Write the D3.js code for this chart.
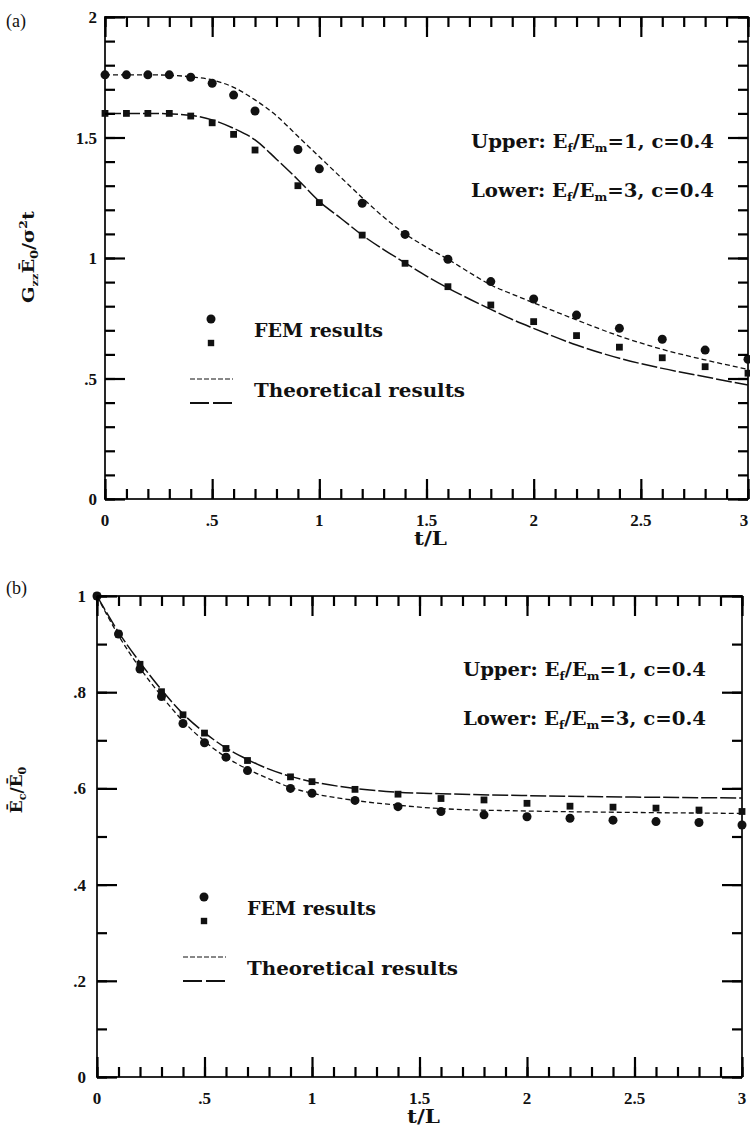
<!DOCTYPE html>
<html>
<head>
<meta charset="utf-8">
<script src="https://d3js.org/d3.v7.min.js"></script>
<style>
  body { margin: 0; background: #fff; }
  text { font-family: "DejaVu Serif", "Liberation Serif", serif; fill: #111; }
</style>
</head>
<body>
<div id="my_dataviz"></div>
<script>

// ---------- data ----------
// panel (a): G Ebar0 / sigma^2 t  vs  t/L
var femT = [0, 0.1, 0.2, 0.3, 0.4, 0.5, 0.6, 0.7, 0.9, 1.0, 1.2, 1.4, 1.6, 1.8, 2.0, 2.2, 2.4, 2.6, 2.8, 3.0];
var femA_upper = [1.76, 1.76, 1.76, 1.76, 1.75, 1.725, 1.676, 1.61, 1.45, 1.37, 1.227, 1.098, 0.995, 0.902, 0.83, 0.763, 0.708, 0.663, 0.618, 0.58];
var femA_lower = [1.60, 1.60, 1.60, 1.60, 1.589, 1.561, 1.513, 1.448, 1.30, 1.23, 1.095, 0.978, 0.881, 0.805, 0.736, 0.678, 0.63, 0.586, 0.549, 0.522];

var theoT = [0, 0.1, 0.2, 0.3, 0.4, 0.5, 0.6, 0.7, 0.8, 0.9, 1.0, 1.1, 1.2, 1.3, 1.4, 1.5, 1.6, 1.7, 1.8, 1.9, 2.0, 2.2, 2.4, 2.6, 2.8, 3.0];
var theoA_upper = [1.76, 1.76, 1.76, 1.758, 1.752, 1.739, 1.708, 1.656, 1.59, 1.505, 1.42, 1.335, 1.25, 1.17, 1.10, 1.045, 0.995, 0.94, 0.888, 0.85, 0.814, 0.743, 0.676, 0.621, 0.577, 0.538];
var theoA_lower = [1.60, 1.60, 1.60, 1.598, 1.592, 1.573, 1.538, 1.49, 1.41, 1.325, 1.235, 1.165, 1.095, 1.035, 0.98, 0.925, 0.875, 0.83, 0.787, 0.745, 0.708, 0.639, 0.584, 0.542, 0.507, 0.473];

// panel (b): Ebar_c / Ebar_0  vs  t/L
var femB_t = [0, 0.1, 0.2, 0.3, 0.4, 0.5, 0.6, 0.7, 0.9, 1.0, 1.2, 1.4, 1.6, 1.8, 2.0, 2.2, 2.4, 2.6, 2.8, 3.0];
var femB_circle = [1.0, 0.921, 0.848, 0.791, 0.735, 0.695, 0.665, 0.637, 0.60, 0.59, 0.575, 0.562, 0.552, 0.545, 0.541, 0.538, 0.534, 0.531, 0.529, 0.524];
var femB_square = [1.0, 0.921, 0.858, 0.801, 0.753, 0.715, 0.683, 0.658, 0.624, 0.614, 0.598, 0.588, 0.579, 0.576, 0.569, 0.563, 0.561, 0.559, 0.555, 0.552];

var theoB_t = [0, 0.1, 0.2, 0.3, 0.4, 0.5, 0.6, 0.7, 0.8, 0.9, 1.0, 1.2, 1.4, 1.6, 2.0, 2.5, 3.0];
var theoB_short = [1.0, 0.918, 0.85, 0.792, 0.74, 0.698, 0.665, 0.64, 0.62, 0.602, 0.59, 0.575, 0.565, 0.558, 0.553, 0.55, 0.548];
var theoB_long = [1.0, 0.925, 0.862, 0.805, 0.755, 0.716, 0.684, 0.66, 0.64, 0.625, 0.614, 0.60, 0.592, 0.589, 0.585, 0.582, 0.58];

// tick labels
var xTickVals = [0, 0.5, 1, 1.5, 2, 2.5, 3];
var xTickLabels = ["0", ".5", "1", "1.5", "2", "2.5", "3"];
var yTickValsA = [0, 0.5, 1, 1.5, 2];
var yTickLabelsA = ["0", ".5", "1", "1.5", "2"];
var yTickValsB = [0, 0.2, 0.4, 0.6, 0.8, 1];
var yTickLabelsB = ["0", ".2", ".4", ".6", ".8", "1"];

var svg = d3.select("#my_dataviz")
  .append("svg")
  .attr("width", 750)
  .attr("height", 1130);

function zip(t, v) { return t.map(function(d, i) { return {t: d, v: v[i]}; }); }

function drawPanel(p) {
  var x = d3.scaleLinear().domain([0, 3]).range([p.left, p.right]);
  var y = d3.scaleLinear().domain([0, p.ymax]).range([p.bottom, p.top]);
  var ink = "#111";
  var g = svg.append("g");

  // frame
  g.append("rect").attr("x", p.left).attr("y", p.top)
    .attr("width", p.right - p.left).attr("height", p.bottom - p.top)
    .attr("fill", "none").attr("stroke", ink).attr("stroke-width", 1.8);

  // tick labels
  g.selectAll(".xl").data(xTickVals).enter().append("text")
    .attr("x", function(d) { return Math.min(x(d), 744); }).attr("y", p.bottom + 27)
    .attr("text-anchor", "middle")
    .style("font-family", "Liberation Serif").style("font-weight", "bold").style("font-size", "17px")
    .text(function(d, i) { return xTickLabels[i]; });
  g.selectAll(".yl").data(p.yvals).enter().append("text")
    .attr("x", p.left - p.ypad).attr("y", function(d) { return y(d) + 6; })
    .attr("text-anchor", "end")
    .style("font-family", "Liberation Serif").style("font-weight", "bold").style("font-size", "17px")
    .text(function(d, i) { return p.ylabels[i]; });

  // curves
  var line = d3.line().x(function(d) { return x(d.t); }).y(function(d) { return y(d.v); })
    .curve(d3.curveMonotoneX);
  g.append("path").datum(zip(p.theoT, p.theoShort))
    .attr("d", line).attr("fill", "none").attr("stroke", ink)
    .attr("stroke-width", 1.3).attr("stroke-dasharray", "5,3");
  g.append("path").datum(zip(p.theoT, p.theoLong))
    .attr("d", line).attr("fill", "none").attr("stroke", ink)
    .attr("stroke-width", 1.5).attr("stroke-dasharray", "16,3");

  // FEM points
  g.selectAll(".circ").data(zip(p.femT, p.femCircle)).enter()
    .append("circle")
    .attr("cx", function(d) { return x(d.t); })
    .attr("cy", function(d) { return y(d.v); })
    .attr("r", 4.5).attr("fill", ink);
  g.selectAll(".sq").data(zip(p.femT, p.femSquare)).enter()
    .append("rect")
    .attr("x", function(d) { return x(d.t) - 3.4; })
    .attr("y", function(d) { return y(d.v) - 3.4; })
    .attr("width", 6.8).attr("height", 6.8).attr("fill", ink);

  // axis title
  g.append("text").attr("x", (p.left + p.right) / 2 + 4).attr("y", p.bottom + 46)
    .attr("text-anchor", "middle").style("font-size", "18px").style("font-weight", "bold")
    .attr("textLength", 33).attr("lengthAdjust", "spacingAndGlyphs").text("t/L");

  // panel tag
  g.append("text").attr("x", 6).attr("y", p.tagY)
    .style("font-family", "Liberation Serif").style("font-size", "18px").text(p.tag);

  // case notes
  var notes = [["Upper: ", "1"], ["Lower: ", "3"]];
  notes.forEach(function(n, i) {
    var t = g.append("text").attr("x", p.noteX).attr("y", p.noteY + i * 49)
      .style("font-size", "18px").style("font-weight", "bold")
      .attr("textLength", 243).attr("lengthAdjust", "spacingAndGlyphs");
    t.append("tspan").text(n[0] + "E");
    t.append("tspan").attr("dy", 4).style("font-size", "11px").text("f");
    t.append("tspan").attr("dy", -4).text("/E");
    t.append("tspan").attr("dy", 4).style("font-size", "11px").text("m");
    t.append("tspan").attr("dy", -4).text("=" + n[1] + ",  c=0.4");
  });

  // legend
  var lg = g.append("g").attr("transform", "translate(" + p.legX + "," + p.legY + ")");
  lg.append("circle").attr("cx", 21).attr("cy", 0).attr("r", 4.5).attr("fill", ink);
  lg.append("rect").attr("x", 17.8).attr("y", 20.8).attr("width", 6.4).attr("height", 6.4).attr("fill", ink);
  lg.append("text").attr("x", 64).attr("y", 18).style("font-size", "18px").style("font-weight", "bold")
    .attr("textLength", 129).attr("lengthAdjust", "spacingAndGlyphs").text("FEM results");
  lg.append("line").attr("x1", 0).attr("x2", 43).attr("y1", 60).attr("y2", 60)
    .attr("stroke", ink).attr("stroke-width", 1).attr("stroke-dasharray", "5,2");
  lg.append("line").attr("x1", 0).attr("x2", 43).attr("y1", 84).attr("y2", 84)
    .attr("stroke", ink).attr("stroke-width", 2).attr("stroke-dasharray", "19,4");
  lg.append("text").attr("x", 64).attr("y", 78).style("font-size", "18px").style("font-weight", "bold")
    .attr("textLength", 211).attr("lengthAdjust", "spacingAndGlyphs").text("Theoretical results");

  // y title
  var yt = g.append("text")
    .attr("transform", "translate(" + p.ylabX + "," + p.ylabY + ") rotate(-90)")
    .attr("text-anchor", "middle").style("font-size", "17px").style("font-weight", "bold");
  p.ylab(yt);

  // inward ticks on all four sides, d3 axes (minor every 0.1, major on labels)
  var minorX = d3.range(0, 31).map(function(d) { return d / 10; });
  var minorY = d3.range(0, p.ymax * 10 + 1).map(function(d) { return d / 10; });
  var majX = minorX.filter(function(d) { return Math.round(d * 10) % 5 === 0; });
  var majY = minorY.filter(function(d) { return Math.round(d * 10) % p.ymajor === 0; });
  var none = function() { return ""; };
  var ax = svg.append("g").attr("class", "ticks");
  [[d3.axisBottom(x), "translate(0," + p.bottom + ")", minorX, majX],
   [d3.axisTop(x), "translate(0," + p.top + ")", minorX, majX],
   [d3.axisLeft(y), "translate(" + p.left + ",0)", minorY, majY],
   [d3.axisRight(y), "translate(" + p.right + ",0)", minorY, majY]].forEach(function(a) {
    [[a[2], 10], [a[3], 20]].forEach(function(s) {
      var axis = a[0].tickValues(s[0]).tickSize(-s[1]).tickFormat(none);
      var sel = ax.append("g").attr("transform", a[1]).call(axis);
      sel.select(".domain").remove();
      sel.selectAll(".tick line").attr("stroke", "#000").attr("stroke-width", 2.2);
    });
  });
}

drawPanel({
  tag: "(a)", tagY: 27, left: 105, right: 748, top: 17, bottom: 499, ymax: 2, ymajor: 5,
  yvals: yTickValsA, ylabels: yTickLabelsA, ypad: 8,
  femT: femT, femCircle: femA_upper, femSquare: femA_lower,
  theoT: theoT, theoShort: theoA_upper, theoLong: theoA_lower,
  noteX: 471, noteY: 148, legX: 190, legY: 319,
  ylabX: 34, ylabY: 257,
  ylab: function(t) {
    t.attr("textLength", 92).attr("lengthAdjust", "spacingAndGlyphs");
    t.append("tspan").text("G");
    t.append("tspan").attr("dy", 4).style("font-size", "10px").text("zz");
    t.append("tspan").attr("dy", -4).text("Ē");
    t.append("tspan").attr("dy", 4).style("font-size", "11px").text("0");
    t.append("tspan").attr("dy", -4).text("/σ");
    t.append("tspan").attr("dy", -7).style("font-size", "11px").text("2");
    t.append("tspan").attr("dy", 7).text("t");
  }
});

drawPanel({
  tag: "(b)", tagY: 594, left: 97, right: 742, top: 596, bottom: 1077, ymax: 1, ymajor: 2,
  yvals: yTickValsB, ylabels: yTickLabelsB, ypad: 11,
  femT: femB_t, femCircle: femB_circle, femSquare: femB_square,
  theoT: theoB_t, theoShort: theoB_short, theoLong: theoB_long,
  noteX: 463, noteY: 676, legX: 183, legY: 897,
  ylabX: 22, ylabY: 790,
  ylab: function(t) {
    t.append("tspan").text("Ē");
    t.append("tspan").attr("dy", 4).style("font-size", "11px").text("c");
    t.append("tspan").attr("dy", -4).text("/Ē");
    t.append("tspan").attr("dy", 4).style("font-size", "11px").text("0");
  }
});

</script>
</body>
</html>
